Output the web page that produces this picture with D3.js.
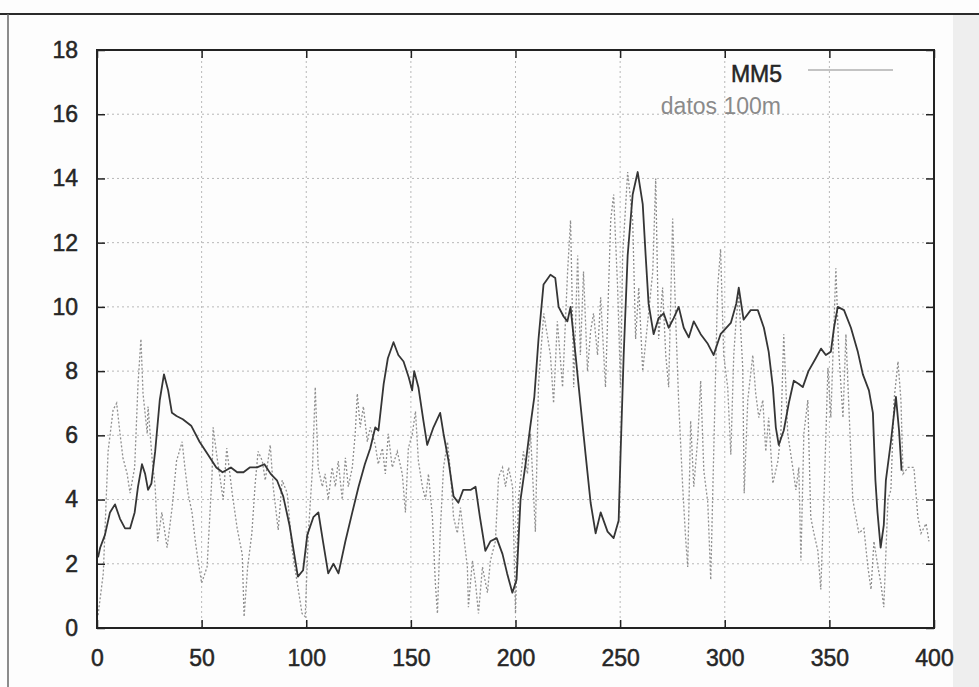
<!DOCTYPE html>
<html>
<head>
<meta charset="utf-8">
<script src="https://cdn.jsdelivr.net/npm/d3@7"></script>
<style>
  body { margin: 0; background: #fff; }
  svg text { font-family: "Liberation Sans", Arial, sans-serif; }
</style>
</head>
<body>
<div id="chart"></div>
<script>
// tick labels
var xTicks = [0, 50, 100, 150, 200, 250, 300, 350, 400];
var yTicks = [0, 2, 4, 6, 8, 10, 12, 14, 16, 18];
var seriesNames = ["MM5", "datos 100m"];

// MM5 (solid line), [x, value]
var mm5 = [[0.5,2.2],[1.5,2.5],[3.8,2.9],[6.2,3.6],[8.6,3.85],[11,3.4],[13.4,3.1],[15.8,3.1],[18,3.6],[19.6,4.4],
  [21.5,5.1],[23,4.8],[24.4,4.3],[26,4.5],[27.8,5.5],[30,7.1],[32,7.9],[34,7.4],[35.8,6.7],[38,6.6],[41,6.5],
  [45,6.3],[49,5.8],[53,5.4],[57,5.0],[60,4.85],[64,5.0],[67,4.85],[70,4.85],[73,5.0],[76.5,5.0],[80,5.1],
  [83,4.8],[86,4.6],[89,4.1],[92,3.2],[94.5,2.2],[96,1.6],[98.5,1.8],[100.5,2.9],[103.4,3.45],[105.8,3.6],
  [108,2.7],[110.5,1.7],[113,2.0],[115.4,1.7],[118.7,2.7],[122,3.6],[125,4.4],[128,5.1],[130.6,5.6],[133,6.25],
  [134.5,6.15],[137,7.6],[139,8.4],[141.7,8.9],[144,8.5],[146.5,8.3],[149,7.8],[150.6,7.4],[151.6,8.0],
  [153.6,7.5],[156,6.45],[157.8,5.7],[160.8,6.25],[164,6.7],[165.6,6.05],[168,5.2],[170.4,4.1],[172.7,3.9],
  [175,4.3],[178.5,4.3],[180.9,4.4],[183,3.45],[185.6,2.4],[188,2.7],[191,2.8],[193.8,2.3],[196,1.7],
  [198.5,1.1],[200.5,1.5],[202.4,4.0],[204.8,5.1],[207,6.25],[209,7.2],[211,9.0],[213.4,10.7],[216.7,11.0],
  [219,10.9],[220.6,10.0],[223,9.7],[224.8,9.55],[226.3,10.0],[228.7,8.5],[231,7.0],[233.5,5.4],[235.9,3.9],
  [238.3,2.95],[240.7,3.6],[244,3.0],[246.9,2.8],[249.3,3.35],[250.2,5.4],[251.7,8.5],[253.6,11.6],[256,13.5],
  [258.4,14.2],[260.8,13.2],[262.2,11.6],[263.6,10.1],[266,9.15],[268.4,9.65],[270.8,9.8],[273.2,9.35],
  [275.6,9.65],[278,10.0],[280.4,9.35],[282.8,9.05],[285.2,9.55],[288.5,9.15],[291.9,8.85],[294.7,8.5],
  [298,9.15],[302.9,9.5],[305.5,10.1],[306.7,10.6],[309,9.6],[312.4,9.9],[315.8,9.9],[318.7,9.35],[321,8.6],
  [323,7.5],[324.4,6.25],[325.8,5.7],[328.2,6.15],[330.6,7.0],[333,7.7],[335.4,7.6],[337.3,7.5],[340,8.0],
  [343.5,8.4],[346,8.7],[348.3,8.5],[350.7,8.6],[352.2,9.35],[354,10.0],[357,9.9],[360.3,9.35],[363.6,8.6],
  [366,7.9],[368.9,7.4],[370.8,6.7],[372,4.6],[373,3.6],[374.5,2.5],[376,3.2],[377,4.6],[379.4,5.8],
  [381.8,7.2],[383.3,6.15],[384.5,4.9]];

// datos 100m (dotted line), [x, value]
var datos = [[0.5,0.4],[3,1.7],[5.3,5.5],[7.7,6.8],[9.4,7.0],[11,6.05],[12.4,5.3],[14.4,4.8],[15.8,4.2],[18,5.0],
  [19.6,7.6],[21,9.0],[22,7.3],[24,6.05],[24.4,6.9],[26.3,5.3],[27.8,4.4],[29,2.7],[31,3.6],[33.5,2.5],
  [35.9,3.75],[38,5.2],[40.7,5.8],[42,5.0],[43.5,4.2],[45.4,3.6],[47,2.7],[48.3,2.1],[50,1.4],[52.6,1.9],
  [55,4.8],[55.5,6.25],[57.4,5.3],[60.3,4.0],[62,5.6],[64.6,4.2],[67,3.1],[69.4,2.3],[70.3,0.35],[72,1.9],
  [74,2.95],[75.6,4.5],[77,5.5],[79,5.2],[80.4,4.6],[82.8,5.7],[84.2,4.4],[86.6,3.05],[88.5,4.6],[90.9,4.2],
  [93.3,2.4],[95.7,1.4],[98,0.45],[99.5,0.35],[101,2.95],[103,5.0],[104.3,7.5],[105.7,5.0],[107.7,4.4],
  [109,4.8],[110.5,4.0],[112.4,5.0],[113.9,4.4],[115.3,5.2],[117.2,4.0],[118.7,5.3],[120.1,4.4],[122,5.0],
  [123.4,6.05],[124.4,7.3],[125.8,6.25],[127.3,6.9],[129.2,5.8],[130.6,6.25],[133,5.7],[134.4,5.1],
  [136.4,5.6],[137.8,4.8],[139.2,6.05],[141.1,5.0],[143.5,5.5],[145.9,4.8],[147.4,3.6],[148.8,5.6],
  [150.7,6.05],[152.2,6.75],[153.6,5.2],[155.5,4.4],[157,4.0],[158.4,4.8],[160.3,3.45],[161.7,1.4],
  [162.7,0.45],[164,2.95],[165.6,5.0],[167.5,5.8],[169,4.8],[170.4,3.45],[172.2,2.95],[173.7,3.75],
  [175.1,2.95],[177,1.9],[177.5,0.65],[179.4,2.1],[180.9,1.4],[182.3,0.45],[184.2,1.9],[186.6,1.1],
  [188,2.1],[190.4,2.7],[191.9,4.7],[193.8,5.0],[195.2,4.4],[196.7,5.0],[198.6,4.4],[200,0.45],[201.4,4.0],
  [203.8,5.5],[205.7,4.8],[207.2,6.05],[209.5,3.0],[211,7.6],[213.5,9.8],[216.7,8.5],[218.2,7.0],[220,9.55],
  [222.5,7.5],[224.9,11.1],[226.3,12.7],[227.3,9.55],[227.8,7.5],[229.7,11.6],[231,8.5],[232.5,11.1],
  [234.4,8.0],[235.9,9.25],[237.3,9.8],[239.2,8.5],[240.7,10.3],[243,7.5],[245.5,12.7],[246.9,13.5],
  [248.8,10.6],[250.2,7.5],[251.2,11.6],[253.6,14.2],[256,12.7],[257.4,9.0],[258.9,10.6],[260.8,8.0],
  [263.2,9.55],[265.6,11.1],[267,14.0],[268.4,9.0],[270.3,10.6],[271.8,8.5],[273.2,7.5],[275.1,12.75],
  [276.6,9.55],[278,7.0],[279.9,4.4],[281.3,2.8],[282.3,1.9],[283.7,6.45],[285.2,4.4],[287.1,5.9],
  [288.5,7.7],[290,4.9],[291.9,3.9],[293.3,1.5],[294.7,5.4],[296.6,10.6],[298,11.8],[299.5,8.5],
  [301.4,7.5],[302.9,5.4],[304.3,8.5],[305.5,9.65],[306.7,10.4],[308.6,8.1],[309.3,4.2],[311,7.1],
  [313.4,8.5],[314.8,7.3],[316.3,6.55],[318.2,7.1],[319.6,5.5],[321,6.55],[323,4.5],[325.4,5.2],
  [326.8,6.05],[328.2,9.15],[330.1,6.05],[332.5,5.0],[334,4.3],[335.4,5.0],[336.4,2.1],[337.8,6.05],
  [339.7,7.1],[341.1,3.45],[342.6,2.95],[344.5,2.4],[345.9,1.2],[347.4,4.0],[349.3,8.1],[350.7,6.55],
  [353.1,11.2],[354.5,8.6],[356.5,6.55],[357.9,9.15],[359.3,6.9],[361.2,4.0],[362.7,3.45],[364.1,2.95],
  [366.5,3.1],[368.4,1.9],[369.9,1.2],[371.3,2.7],[373.2,1.9],[374.6,1.4],[376,0.65],[378,4.0],[379.4,4.3],
  [380.9,7.1],[382.8,8.3],[384.2,7.1],[385.2,4.8],[387.6,5.0],[390.4,5.0],[392.3,3.45],[393.8,2.95],
  [396.2,3.25],[397.6,2.7]];

var W = 979, H = 687;
var margin = {left: 97, right: 45, top: 50, bottom: 59};

const svg = d3.select("#chart").append("svg")
  .attr("width", W)
  .attr("height", H);

// scanned page look: top rule, left edge, grey strip at right
svg.append("rect").attr("x", 0).attr("y", 0).attr("width", W).attr("height", H).attr("fill", "#fdfdfd");
svg.append("rect").attr("x", 953).attr("y", 14).attr("width", W - 953).attr("height", H - 14).attr("fill", "#eeeeee");
svg.append("line").attr("x1", 0).attr("x2", W).attr("y1", 14).attr("y2", 14)
  .attr("stroke", "#2a2a2a").attr("stroke-width", 2);
svg.append("line").attr("x1", 8).attr("x2", 8).attr("y1", 14).attr("y2", H)
  .attr("stroke", "#666").attr("stroke-width", 1.5);

var x = d3.scaleLinear().domain([0, 400]).range([margin.left, W - margin.right]);
var y = d3.scaleLinear().domain([0, 18]).range([H - margin.bottom, margin.top]);

// dotted grid
var grid = svg.append("g").attr("stroke", "#b8b8b8").attr("stroke-width", 1).attr("stroke-dasharray", "2,3");
grid.selectAll(".gx").data(xTicks.slice(1, -1)).enter().append("line")
  .attr("x1", function (d) {return x(d);}).attr("x2", function (d) {return x(d);})
  .attr("y1", y(0)).attr("y2", y(18));
grid.selectAll(".gy").data(yTicks.slice(1, -1)).enter().append("line")
  .attr("x1", x(0)).attr("x2", x(400))
  .attr("y1", function (d) {return y(d);}).attr("y2", function (d) {return y(d);});

// data lines
var line = d3.line()
  .x(function (d) {return x(d[0]);})
  .y(function (d) {return y(d[1]);});

svg.append("path").datum(datos)
  .attr("d", line)
  .attr("fill", "none")
  .attr("stroke", "#8f8f8f")
  .attr("stroke-width", 1.3)
  .attr("stroke-dasharray", "2,2");

svg.append("path").datum(mm5)
  .attr("d", line)
  .attr("fill", "none")
  .attr("stroke", "#353535")
  .attr("stroke-width", 1.8)
  .attr("stroke-linejoin", "round");

// axes, ticks pointing inward on all four sides
function styleAxis(g) {
  g.select(".domain").remove();
  g.selectAll(".tick line").attr("stroke", "#222").attr("stroke-width", 1.5);
  g.selectAll("text").attr("fill", "#262626").attr("stroke", "#262626").attr("stroke-width", 0.5)
    .style("font-size", "23px");
}
svg.append("g").attr("transform", "translate(0," + y(0) + ")")
  .call(d3.axisBottom(x).tickValues(xTicks).tickSize(-8).tickPadding(22))
  .call(styleAxis);
svg.append("g").attr("transform", "translate(0," + y(18) + ")")
  .call(d3.axisTop(x).tickValues(xTicks).tickSize(-8).tickFormat(""))
  .call(styleAxis);
svg.append("g").attr("transform", "translate(" + x(0) + ",0)")
  .call(d3.axisLeft(y).tickValues(yTicks).tickSize(-8).tickPadding(19))
  .call(styleAxis);
svg.append("g").attr("transform", "translate(" + x(400) + ",0)")
  .call(d3.axisRight(y).tickValues(yTicks).tickSize(-8).tickFormat(""))
  .call(styleAxis);

// frame
svg.append("rect")
  .attr("x", x(0)).attr("y", y(18))
  .attr("width", x(400) - x(0)).attr("height", y(0) - y(18))
  .attr("fill", "none").attr("stroke", "#222").attr("stroke-width", 2);

// legend
var legend = svg.append("g");
legend.append("text").attr("x", 782).attr("y", 82).attr("text-anchor", "end")
  .attr("fill", "#262626").attr("stroke", "#262626").attr("stroke-width", 0.5)
  .style("font-size", "23px").text(seriesNames[0]);
legend.append("line").attr("x1", 808).attr("x2", 893).attr("y1", 70).attr("y2", 70)
  .attr("stroke", "#8a8a8a").attr("stroke-width", 1.2);
legend.append("text").attr("x", 781).attr("y", 114).attr("text-anchor", "end")
  .attr("fill", "#8a8a8a").style("font-size", "23px").text(seriesNames[1]);
</script>
</body>
</html>
